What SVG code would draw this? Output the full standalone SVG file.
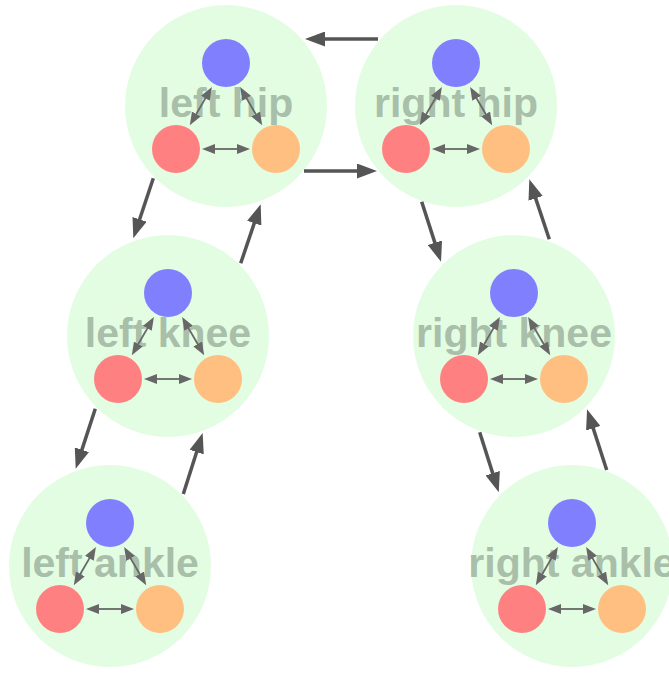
<svg xmlns="http://www.w3.org/2000/svg" width="669" height="673" viewBox="0 0 669 673">
  <style>
    .joint { fill: #e3fde3; }
    .label { font-family: "Liberation Sans", Arial, sans-serif; font-weight: bold; font-size: 41px; fill: #a9bfa9; text-anchor: middle; }
    .blue { fill: #8080ff; }
    .red { fill: #ff8080; }
    .orange { fill: #ffbf80; }
    .inner { stroke: #676767; stroke-width: 1.8; fill: none; marker-start: url(#smallHead); marker-end: url(#smallHead); }
    .link { stroke: #555555; stroke-width: 3.5; fill: none; marker-end: url(#bigHead); }
  </style>
  <defs>
    <marker id="bigHead" markerUnits="userSpaceOnUse" markerWidth="20" markerHeight="15" refX="2" refY="7.5" orient="auto">
      <path d="M0,0 L20,7.5 L0,15 z" fill="#555555"/>
    </marker>
    <marker id="smallHead" markerUnits="userSpaceOnUse" markerWidth="13" markerHeight="10" refX="2" refY="5" orient="auto-start-reverse">
      <path d="M0,0 L13,5 L0,10 z" fill="#676767"/>
    </marker>
    <!-- one joint: three sub-nodes joined by two-way arrows -->
    <g id="triad">
      <line class="inner" x1="-13" y1="43" x2="13" y2="43"/>
      <line class="inner" x1="-19.6" y1="-9.4" x2="-30.7" y2="9.8"/>
      <line class="inner" x1="19.6" y1="-9.4" x2="30.7" y2="9.8"/>
      <circle class="blue" cx="0" cy="-43" r="24"/>
      <circle class="red" cx="-50" cy="43" r="24"/>
      <circle class="orange" cx="50" cy="43" r="24"/>
    </g>
  </defs>

  <g id="left-hip" transform="translate(226,106)">
    <circle class="joint" r="101"/>
    <text class="label" y="11">left hip</text>
    <use href="#triad"/>
  </g>
  <g id="right-hip" transform="translate(456,106)">
    <circle class="joint" r="101"/>
    <text class="label" y="11">right hip</text>
    <use href="#triad"/>
  </g>
  <g id="left-knee" transform="translate(168,336)">
    <circle class="joint" r="101"/>
    <text class="label" y="11">left knee</text>
    <use href="#triad"/>
  </g>
  <g id="right-knee" transform="translate(514,336)">
    <circle class="joint" r="101"/>
    <text class="label" y="11">right knee</text>
    <use href="#triad"/>
  </g>
  <g id="left-ankle" transform="translate(110,566)">
    <circle class="joint" r="101"/>
    <text class="label" y="11">left ankle</text>
    <use href="#triad"/>
  </g>
  <g id="right-ankle" transform="translate(572,566)">
    <circle class="joint" r="101"/>
    <text class="label" y="11">right ankle</text>
    <use href="#triad"/>
  </g>

  <g id="connectors">
    <line class="link" x1="378" y1="39" x2="323" y2="39"/>
    <line class="link" x1="304" y1="171" x2="359" y2="171"/>
    <line class="link" x1="153.3" y1="178.3" x2="139" y2="221.2"/>
    <line class="link" x1="240.7" y1="263.3" x2="254.9" y2="221.3"/>
    <line class="link" x1="95.3" y1="408.7" x2="81.3" y2="451.6"/>
    <line class="link" x1="183.3" y1="494" x2="197.2" y2="450.2"/>
    <line class="link" x1="421.7" y1="201.7" x2="435.5" y2="244.6"/>
    <line class="link" x1="549.3" y1="239.3" x2="535" y2="196.4"/>
    <line class="link" x1="479.7" y1="432.3" x2="493.3" y2="475.1"/>
    <line class="link" x1="606.7" y1="470" x2="592.6" y2="426.4"/>
  </g>
</svg>
